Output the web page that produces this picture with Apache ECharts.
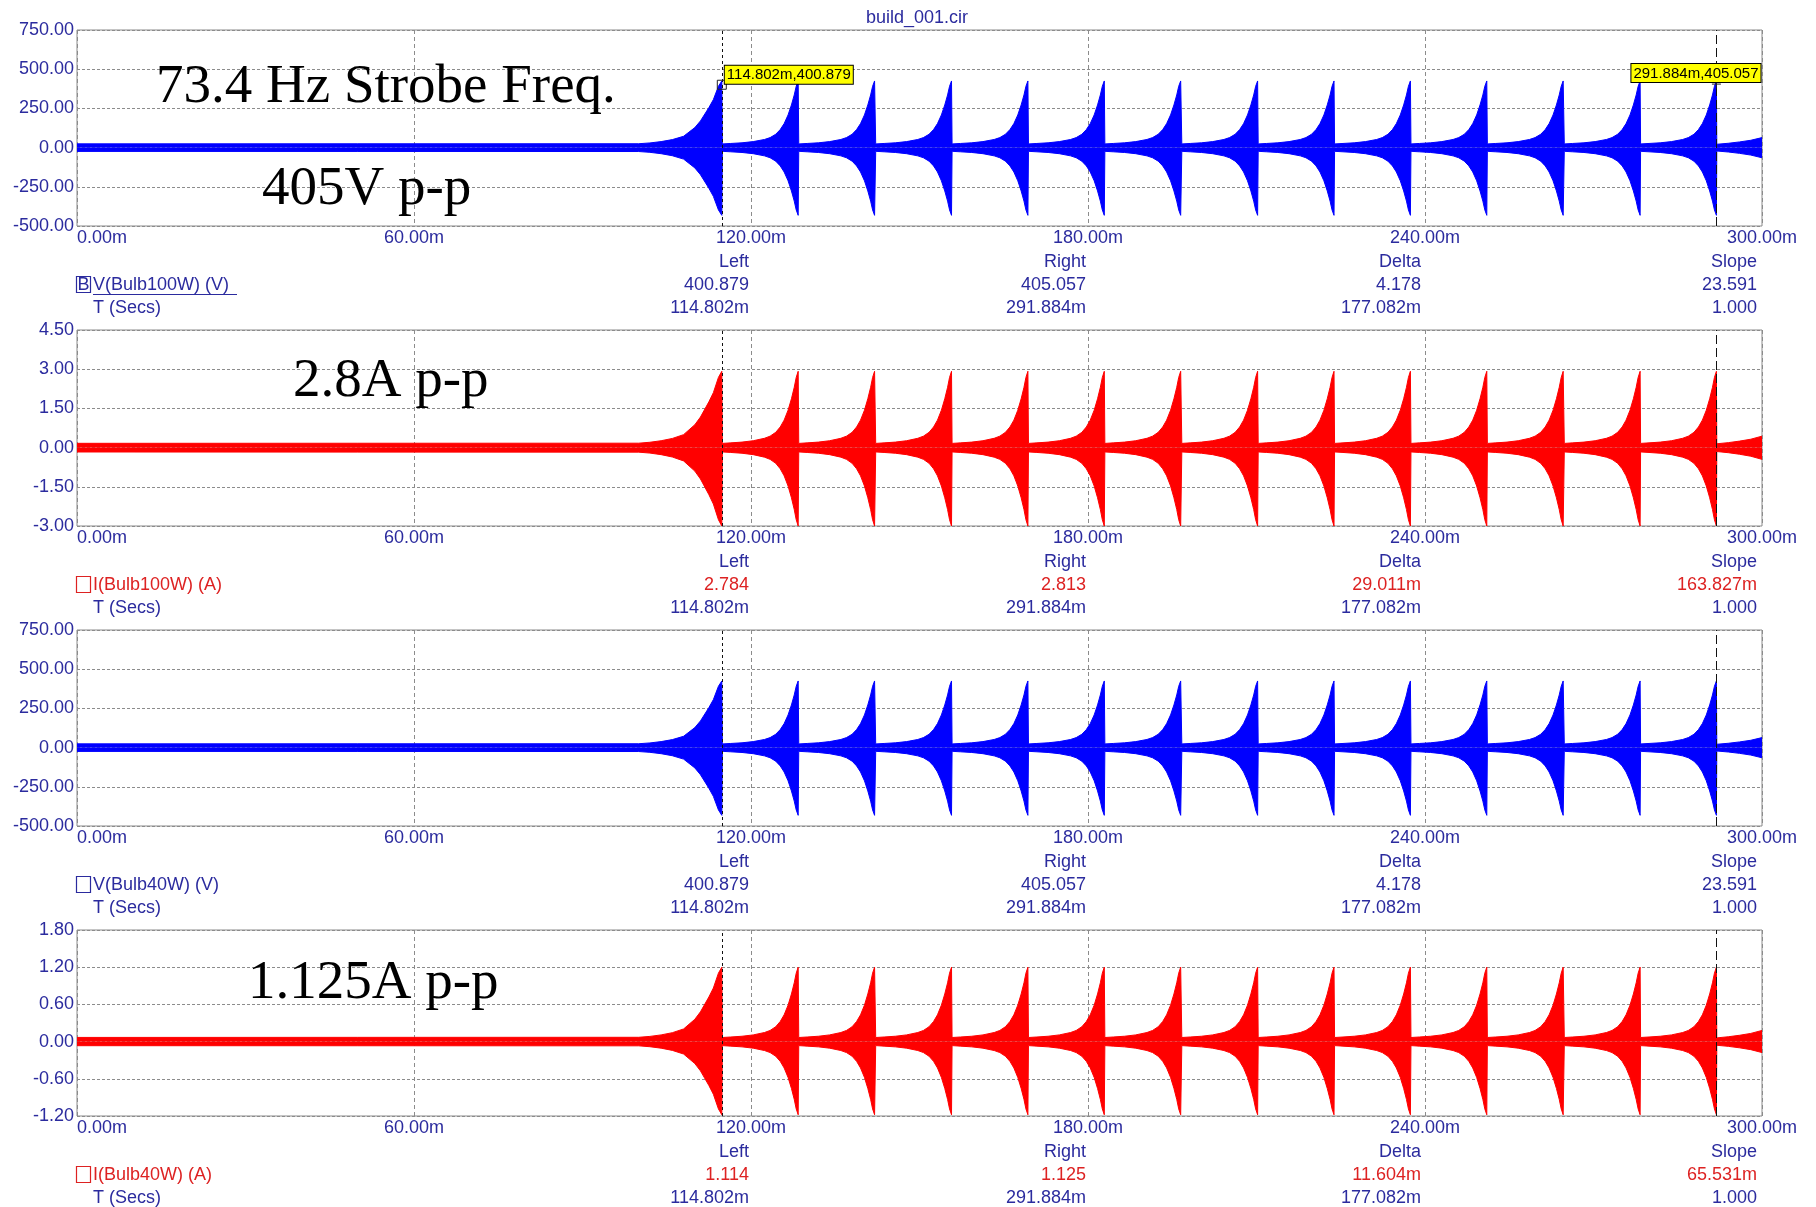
<!DOCTYPE html>
<html><head><meta charset="utf-8">
<script src="https://cdn.jsdelivr.net/npm/echarts@6/dist/echarts.min.js"></script>
<style>html,body{margin:0;padding:0;background:#fff}#c{width:1816px;height:1207px}</style>
</head><body><div id="c"></div><script>
// ---------------- data ----------------
const timeRange = [0, 300, 60];                 // ms: min, max, tick step
const yMins  = [-500, -3, -500, -1.2];
const yMaxs  = [750, 4.5, 750, 1.8];
const ySteps = [250, 1.5, 250, 0.6];
const peakTimes = [114.802, 128.4, 142.0, 155.7, 169.3, 182.9, 196.5, 210.2, 223.8, 237.4, 251.0, 264.6, 278.3, 291.884];
// envelope of one ringing burst: ms before the peak, fraction of the peak
const burstDt   = [13.5, 12, 10, 8, 6, 5, 4, 3.2, 2.5, 1.8, 1.2, 0.7, 0.35, 0];
const burstFrac = [0.055, 0.062, 0.072, 0.09, 0.122, 0.15, 0.2, 0.27, 0.36, 0.49, 0.64, 0.79, 0.92, 1.0];
// first burst (growing out of the quiet trace), absolute ms
const firstT    = [0, 100, 102, 104, 106, 108, 110, 111, 112.5, 113.3, 114.2];
const firstFrac = [0.056, 0.058, 0.07, 0.09, 0.12, 0.17, 0.3, 0.4, 0.6, 0.72, 0.92];
// partial burst after the last peak
const tailT    = [291.95, 294, 296, 298, 300];
const tailFrac = [0.05, 0.065, 0.085, 0.11, 0.15];
// peak of the envelope per trace (upper, lower)
const peakUpper = [425, 2.92, 425, 1.2];
const peakLower = [-432, -3.0, -432, -1.18];

const traceNames  = ['V(Bulb100W) (V)', 'I(Bulb100W) (A)', 'V(Bulb40W) (V)', 'I(Bulb40W) (A)'];
const colHeads    = ['Left', 'Right', 'Delta', 'Slope'];
const traceValues = [
  ['400.879', '405.057', '4.178', '23.591'],
  ['2.784', '2.813', '29.011m', '163.827m'],
  ['400.879', '405.057', '4.178', '23.591'],
  ['1.114', '1.125', '11.604m', '65.531m']
];
const timeValues   = ['114.802m', '291.884m', '177.082m', '1.000'];
const cursorTimes  = [114.802, 291.884];
const cursorValues = [400.879, 405.057];
const cursorLabels = ['114.802m,400.879', '291.884m,405.057'];
const notes = ['73.4 Hz Strobe Freq.', '405V p-p', '2.8A p-p', '1.125A p-p'];
const fileTitle = 'build_001.cir';

// ---------------- layout / style ----------------
const NAVY = '#2b2b9e', REDTXT = '#dd2222';
const traceColor = ['#0000ff', '#ff0000', '#0000ff', '#ff0000'];
const textColor  = [NAVY, REDTXT, NAVY, REDTXT];
const gridTop = [30, 330, 630, 930];
const gridH   = [196, 196, 196, 186];
const LEFT = 77, RIGHT = 54;
const colX = [749, 1086, 1421, 1757];
const FONT = "'Liberation Sans', Arial, sans-serif";
const SERIF = "'Liberation Serif', 'Times New Roman', serif";

function envelope() {
  const pts = [];
  firstT.forEach((t, i) => pts.push([t, firstFrac[i]]));
  pts.push([peakTimes[0], 1]);
  for (let k = 1; k < peakTimes.length; k++) {
    burstDt.forEach((d, i) => pts.push([peakTimes[k] - d, burstFrac[i]]));
  }
  tailT.forEach((t, i) => pts.push([t, tailFrac[i]]));
  return pts;
}
const env = envelope();

const grids = [], xAxes = [], yAxes = [], series = [], graphics = [];
for (let p = 0; p < 4; p++) {
  grids.push({left: LEFT, right: RIGHT, top: gridTop[p], height: gridH[p], show: true,
    borderColor: '#8a8a8a', borderWidth: 1, backgroundColor: 'transparent'});
  xAxes.push({type: 'value', gridIndex: p, min: timeRange[0], max: timeRange[1], interval: timeRange[2],
    axisLine: {show: false, onZero: false}, axisTick: {show: false},
    splitLine: {show: true, lineStyle: {color: '#8c8c8c', type: [4, 3], width: 1}},
    axisLabel: {color: NAVY, fontFamily: FONT, fontSize: 18, margin: 3, alignMinLabel: 'left',
      showMinLabel: true, showMaxLabel: true, formatter: v => v.toFixed(2) + 'm'}});
  yAxes.push({type: 'value', gridIndex: p, min: yMins[p], max: yMaxs[p], interval: ySteps[p],
    axisLine: {show: false}, axisTick: {show: false},
    splitLine: {show: true, lineStyle: {color: '#8c8c8c', type: [3, 2], width: 1}},
    axisLabel: {color: NAVY, fontFamily: FONT, fontSize: 18, margin: 3, formatter: v => v.toFixed(2)}});
  const col = traceColor[p];
  const base = {type: 'line', xAxisIndex: p, yAxisIndex: p, showSymbol: false, symbol: 'none',
    animation: false, silent: true, lineStyle: {color: col, width: 1},
    areaStyle: {color: col, opacity: 1, origin: 'auto'}, itemStyle: {color: col}};
  const upper = Object.assign({}, base, {data: env.map(([t, f]) => [t, f * peakUpper[p]])});
  const lower = Object.assign({}, base, {data: env.map(([t, f]) => [t, f * peakLower[p]])});
  lower.markLine = {silent: true, symbol: 'none', animation: false, label: {show: false},
    data: [
      {xAxis: cursorTimes[0], lineStyle: {color: '#111', type: [3, 3], width: 1}},
      {xAxis: cursorTimes[1], lineStyle: {color: '#111', type: [9, 4], width: 1}}
    ]};
  if (p === 0) {
    const lab = {show: true, color: '#000', fontFamily: FONT, fontSize: 15, backgroundColor: '#ffff00',
      borderColor: '#000', borderWidth: 1, padding: [2, 2, 1, 2], align: 'left', verticalAlign: 'bottom'};
    lower.markPoint = {silent: true, animation: false, data: [
      {coord: [cursorTimes[0], cursorValues[0]], symbol: 'rect', symbolSize: 9,
        itemStyle: {color: 'rgba(0,0,0,0)', borderColor: '#222', borderWidth: 1},
        label: Object.assign({}, lab, {formatter: cursorLabels[0], position: [8, 4]})},
      {coord: [cursorTimes[1], cursorValues[1]], symbol: 'path://M5,0L5,10M0,5L10,5', symbolSize: 9,
        itemStyle: {color: 'rgba(0,0,0,0)', borderColor: '#222', borderWidth: 1},
        label: Object.assign({}, lab, {formatter: cursorLabels[1], position: [-80, 3]})}
    ]};
  }
  series.push(upper, lower);

  // cursor read-out rows
  const bottom = gridTop[p] + gridH[p];
  const hy = bottom + 36, vy = bottom + 59, ty = bottom + 82;
  const txt = (x, y, s, fill, align) => ({type: 'text', x: x, y: y, silent: true,
    style: {text: s, fill: fill, font: '18px ' + FONT, align: align, textAlign: align,
      verticalAlign: 'middle', textVerticalAlign: 'middle'}});
  colHeads.forEach((h, i) => graphics.push(txt(colX[i], hy, h, NAVY, 'right')));
  traceValues[p].forEach((v, i) => graphics.push(txt(colX[i], vy, v, textColor[p], 'right')));
  timeValues.forEach((v, i) => graphics.push(txt(colX[i], ty, v, NAVY, 'right')));
  graphics.push(txt(93, vy, traceNames[p], textColor[p], 'left'));
  graphics.push(txt(93, ty, 'T (Secs)', NAVY, 'left'));
  graphics.push({type: 'rect', silent: true, shape: {x: 76.5, y: vy - 8.5, width: 14, height: 16},
    style: {fill: 'none', stroke: textColor[p], lineWidth: 1.2}});
  if (p === 0) {
    graphics.push(txt(83.5, vy, 'B', NAVY, 'center'));
    graphics.push({type: 'line', silent: true, shape: {x1: 93, y1: vy + 9.5, x2: 237, y2: vy + 9.5},
      style: {stroke: NAVY, lineWidth: 1}});
  }
}

graphics.push({type: 'text', x: 917, y: 18, silent: true,
  style: {text: fileTitle, fill: NAVY, font: '18px ' + FONT, align: 'center', textAlign: 'center',
    verticalAlign: 'middle', textVerticalAlign: 'middle'}});
const notePos = [[156, 88, 55], [262, 190, 55], [293, 382, 55], [248, 984, 55]];
notes.forEach((s, i) => graphics.push({type: 'text', x: notePos[i][0], y: notePos[i][1], silent: true, z: 100,
  style: {text: s, fill: '#000', font: notePos[i][2] + 'px ' + SERIF, align: 'left', textAlign: 'left',
    verticalAlign: 'middle', textVerticalAlign: 'middle'}}));

const chart = echarts.init(document.getElementById('c'), null, {renderer: 'canvas'});
chart.setOption({
  animation: false, backgroundColor: '#fff',
  grid: grids, xAxis: xAxes, yAxis: yAxes, series: series, graphic: graphics
});
</script></body></html>
